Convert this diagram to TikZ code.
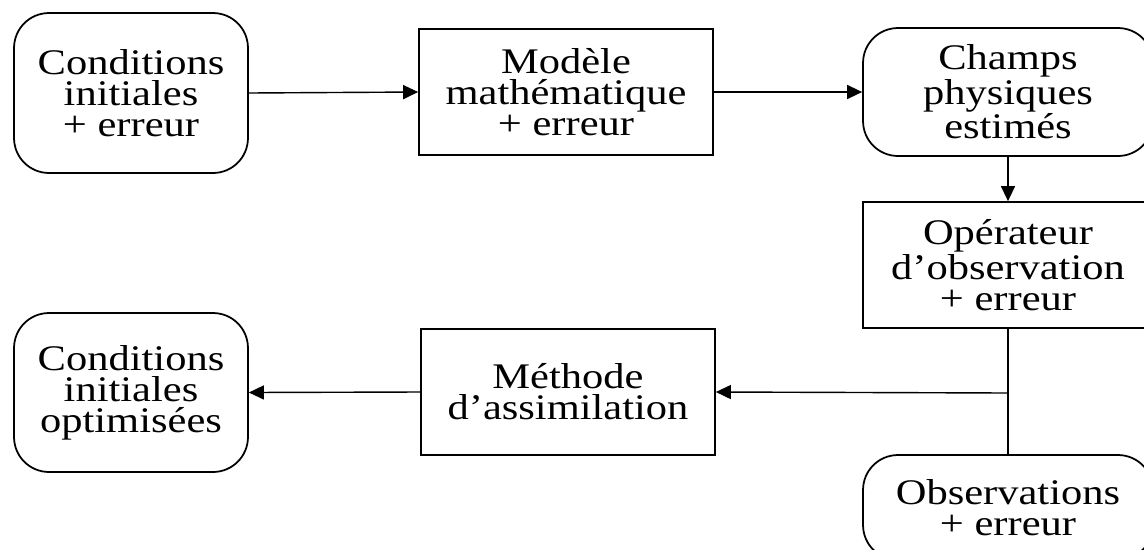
\documentclass[tikz,border=0pt]{standalone}
\usepackage{fontspec}
\setmainfont[FakeStretch=1.18]{Liberation Serif}
\usetikzlibrary{arrows.meta}

\begin{document}
\begin{tikzpicture}[%
    x=0.02cm, y=-0.02cm,
    bloc/.style={draw, line width=1pt, align=center, inner sep=0pt,
      font=\fontsize{20.5pt}{17.6pt}\selectfont},
    arrondi/.style={bloc, rounded corners=0.7cm},
    fleche/.style={line width=0.8pt, -{Triangle[length=0.3cm, width=0.28cm]}},
    ]
    \clip (0,0) rectangle (1144,549);
    \node[arrondi, minimum width=4.68cm, minimum height=3.2cm] (ci) at (131,93) {Conditions\\initiales\\+ erreur};
    \node[bloc, minimum width=5.88cm, minimum height=2.52cm] (modele) at (566,92) {Modèle\\mathématique\\+ erreur};
    \node[arrondi, minimum width=5.8cm, minimum height=2.56cm] (champs) at (1008,92) {Champs\\physiques\\estimés};
    \node[bloc, minimum width=5.8cm, minimum height=2.52cm] (operateur) at (1008,265) {Opérateur\\d’observation\\+ erreur};
    \node[arrondi, minimum width=5.8cm, minimum height=2.1cm] (obs) at (1008,507.5) {Observations\\+ erreur};
    \node[bloc, minimum width=5.88cm, minimum height=2.52cm] (methode) at (568,392) {Méthode\\d’assimilation};
    \node[arrondi, minimum width=4.68cm, minimum height=3.18cm] (cio) at (131,392.5) {Conditions\\initiales\\optimisées};
    \coordinate (jonction) at (1008,393);
    \draw[fleche] (ci.east) -- (modele.west);
    \draw[fleche] (modele.east) -- (champs.west);
    \draw[fleche] (champs.south) -- (operateur.north);
    \draw[line width=0.8pt] (operateur.south) -- (obs.north);
    \draw[fleche] (jonction) -- (methode.east);
    \draw[fleche] (methode.west) -- (cio.east);
    \end{tikzpicture}
\end{document}
